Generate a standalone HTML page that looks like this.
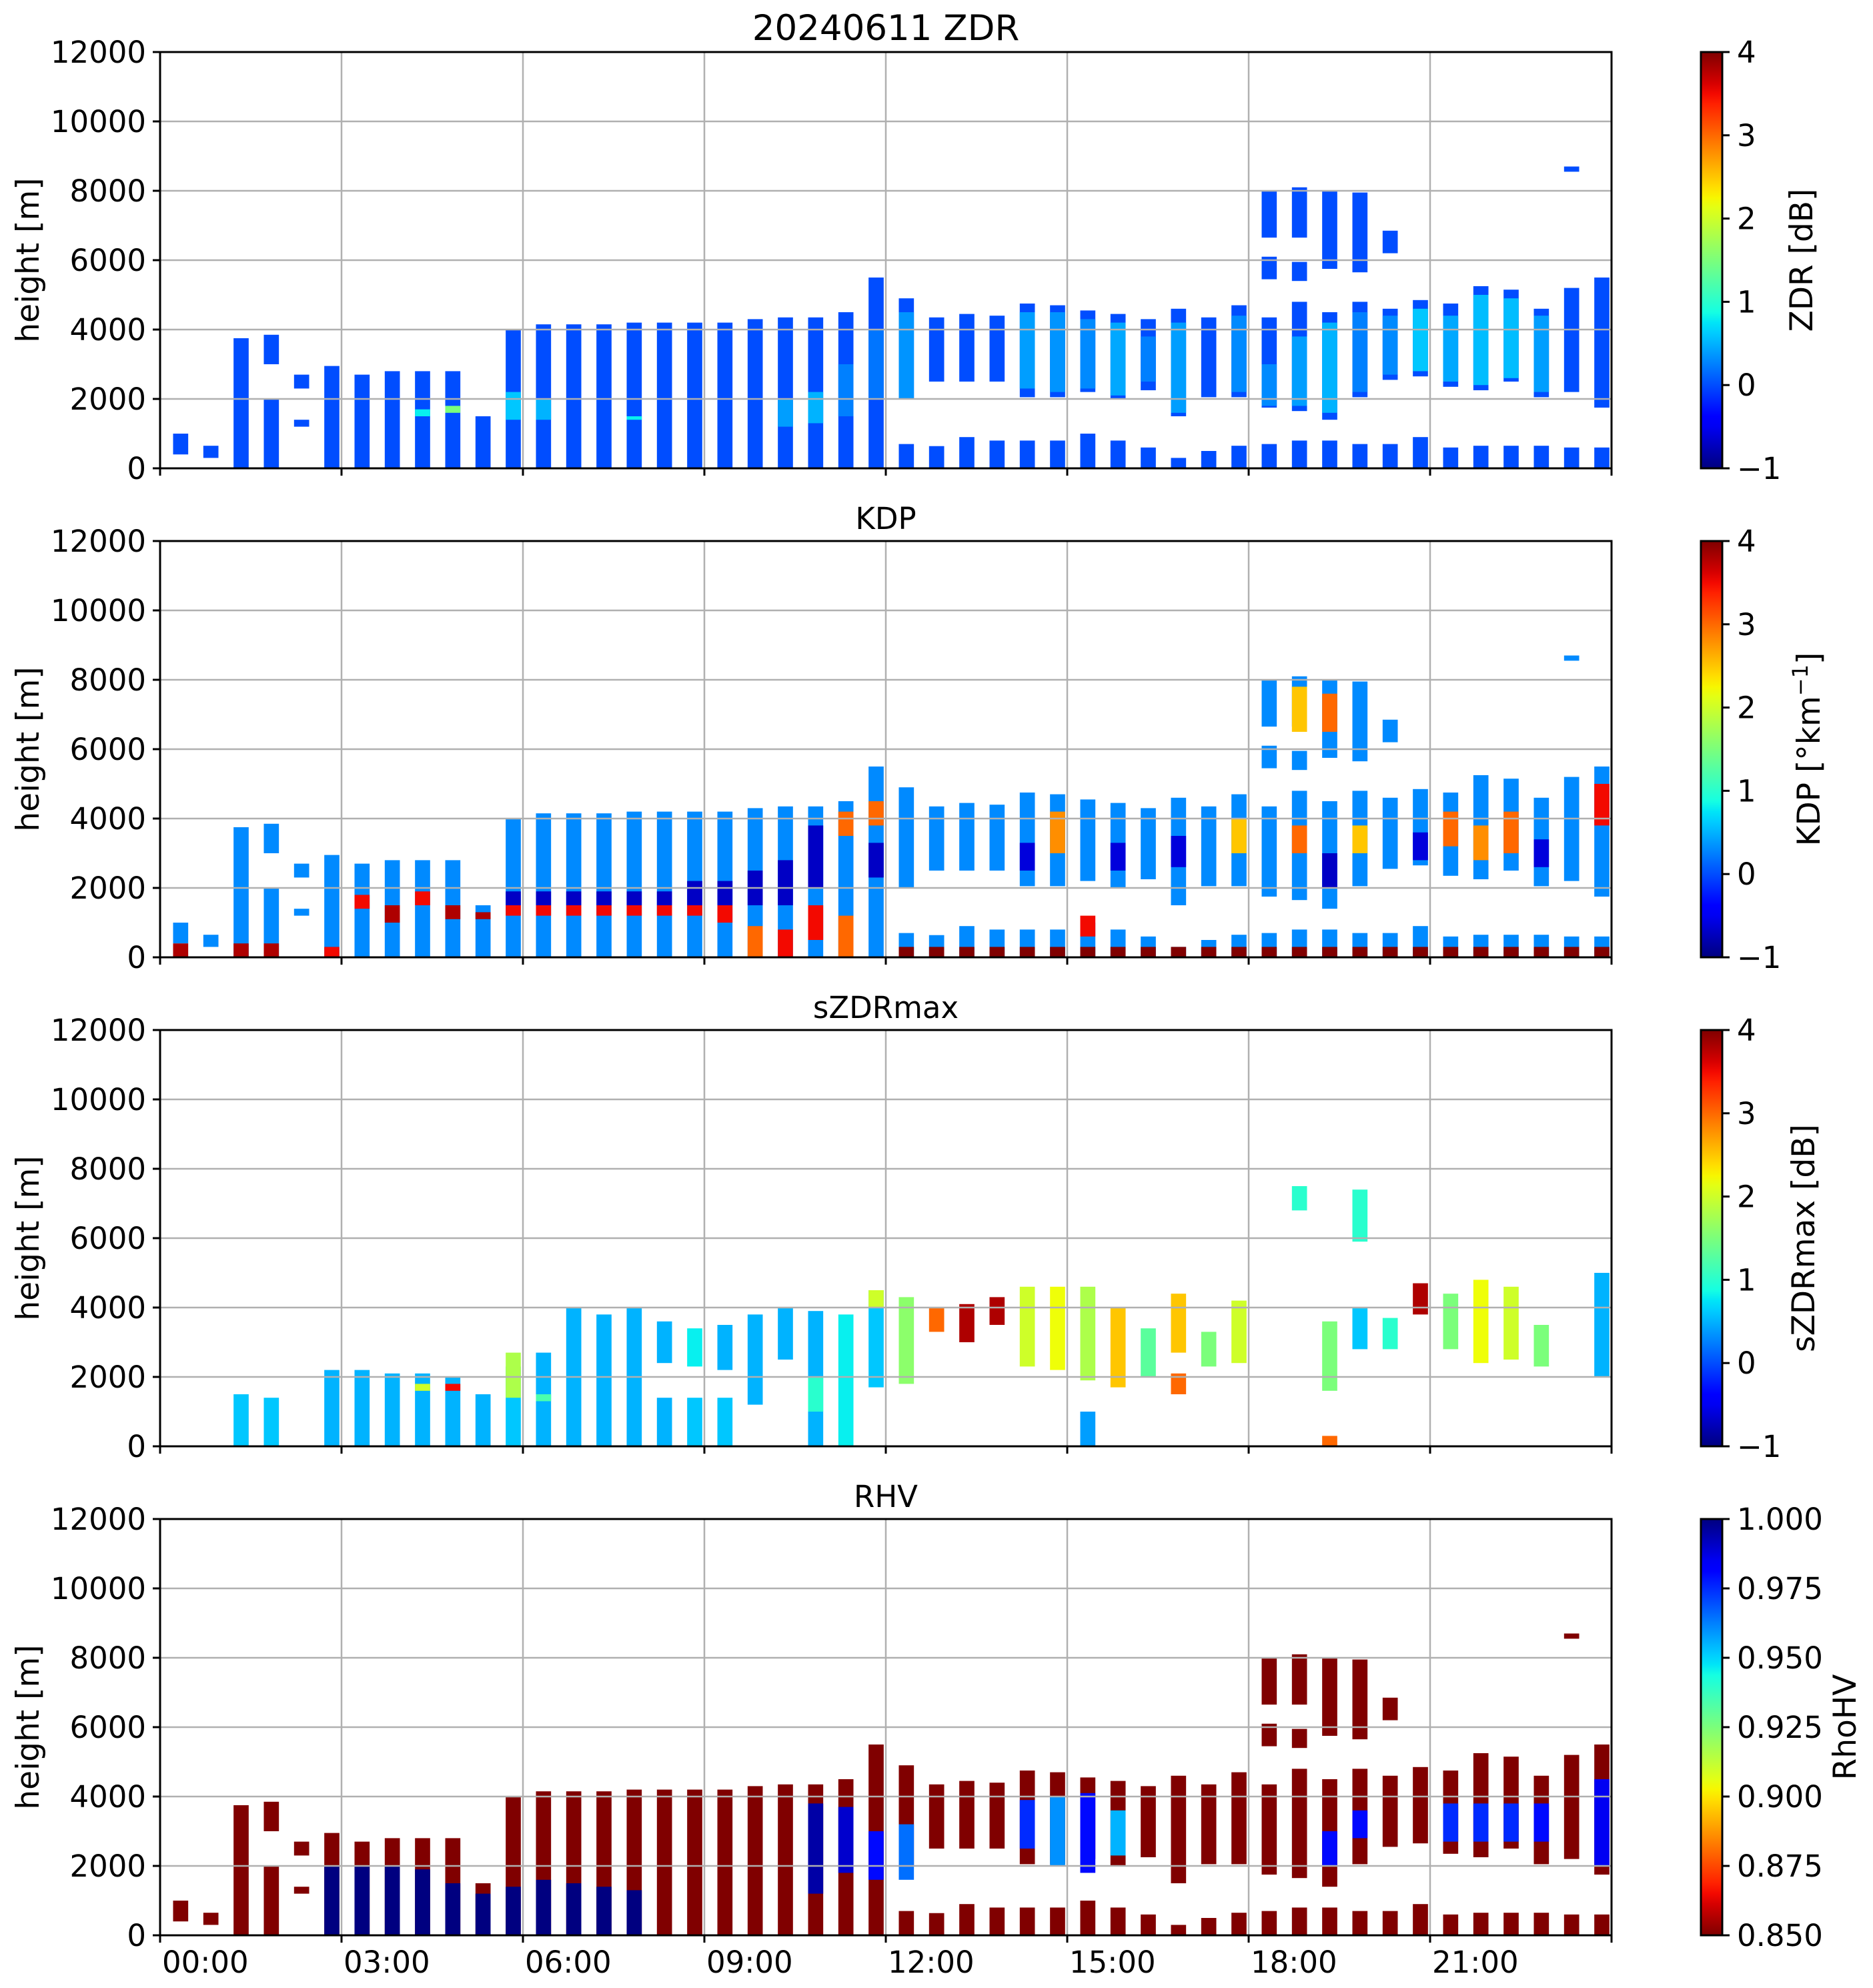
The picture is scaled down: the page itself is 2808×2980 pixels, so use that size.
<!DOCTYPE html>
<html><head><meta charset="utf-8"><title>20240611 ZDR</title>
<style>
html,body{margin:0;padding:0;background:#fff;}
svg{display:block;font-family:"DejaVu Sans","Liberation Sans",sans-serif;}
</style></head>
<body>
<svg id="fig" xmlns="http://www.w3.org/2000/svg" width="2808" height="2980" viewBox="0 0 2808 2980"></svg>
<script>
// ---- data ----
const barTimes = [0.34,0.84,1.34,1.84,2.34,2.84,3.34,3.84,4.34,4.84,5.34,5.84,6.34,6.84,7.34,7.84,8.34,8.84,9.34,9.84,10.34,10.84,11.34,11.84,12.34,12.84,13.34,13.84,14.34,14.84,15.34,15.84,16.34,16.84,17.34,17.84,18.34,18.84,19.34,19.84,20.34,20.84,21.34,21.84,22.34,22.84,23.34,23.84];
const scanBar    = [0,1,2,3,3,4,4,5,6,7,8,9,10,11,12,13,14,15,16,17,18,19,20,21,22,23,24,24,25,25,26,26,27,27,28,28,29,29,30,30,31,31,32,32,33,33,34,34,35,35,36,36,36,36,37,37,37,37,38,38,38,39,39,39,40,40,40,41,41,42,42,43,43,44,44,45,45,46,46,46,47,47];
const scanBottom = [400,300,0,0,3000,1200,2300,0,0,0,0,0,0,0,0,0,0,0,0,0,0,0,0,0,0,0,0,2000,0,2500,0,2500,0,2500,0,2050,0,2050,0,2200,0,2000,0,2250,0,1500,0,2050,0,2050,0,1750,5450,6650,0,1650,5400,6650,0,1400,5750,0,2050,5650,0,2550,6200,0,2650,0,2350,0,2250,0,2500,0,2050,0,2200,8550,0,1750];
const scanTop    = [1000,650,3750,2000,3850,1400,2700,2950,2700,2800,2800,2800,1500,4000,4150,4150,4150,4200,4200,4200,4200,4300,4350,4350,4500,5500,700,4900,640,4350,900,4450,800,4400,800,4750,800,4700,1000,4550,800,4450,600,4300,300,4600,500,4350,650,4700,700,4350,6100,8000,800,4800,5950,8100,800,4500,8000,700,4800,7950,700,4600,6850,900,4850,600,4750,650,5250,650,5150,650,4600,600,5200,8700,600,5500];
const zdrBaseValue = 0.0;
const kdpBaseValue = 0.3;
const rhvBaseValue = 0.85;
const zdrOverlay = [[8,1500,1700,0.8],[9,1600,1800,1.5],[11,1400,2200,0.6],[12,1400,2000,0.5],[15,1400,1500,0.8],[20,1200,2000,0.4],[21,1300,2200,0.5],[22,1500,3000,0.25],[23,2000,4000,0.2],[24,2000,4500,0.35],[28,2300,4500,0.4],[29,2200,4500,0.35],[30,2300,4300,0.3],[31,2100,4200,0.45],[32,2500,3800,0.25],[33,1600,4200,0.4],[35,2200,4400,0.3],[36,1800,3000,0.3],[37,1800,3800,0.4],[38,1600,4200,0.5],[39,2200,4500,0.25],[40,2700,4400,0.3],[41,2800,4600,0.6],[42,2500,4400,0.45],[43,2400,5000,0.55],[44,2600,4900,0.55],[45,2200,4400,0.4]];
const kdpOverlay = [[0,0,400,3.8],[2,0,400,3.8],[3,0,400,3.8],[5,0,300,3.5],[6,1400,1800,3.5],[7,1000,1500,3.8],[8,1500,1900,3.5],[9,1100,1500,3.8],[10,1100,1300,3.8],[11,1200,1500,3.5],[11,1500,1900,-0.7],[12,1200,1500,3.5],[12,1500,1900,-0.7],[13,1200,1500,3.5],[13,1500,1900,-0.7],[14,1200,1500,3.5],[14,1500,1900,-0.7],[15,1200,1500,3.5],[15,1500,1900,-0.7],[16,1200,1500,3.5],[16,1500,1900,-0.7],[17,1200,1500,3.5],[17,1500,2200,-0.7],[18,1000,1500,3.5],[18,1500,2200,-0.7],[19,0,900,3.0],[19,1500,2500,-0.7],[20,0,800,3.5],[20,1500,2800,-0.7],[21,500,1500,3.5],[21,2000,3800,-0.7],[22,0,1200,3.0],[22,3500,4200,3.0],[23,2300,3300,-0.7],[23,3800,4500,3.0],[24,0,300,4],[25,0,300,4],[26,0,300,4],[27,0,300,4],[28,0,300,4],[28,2500,3300,-0.6],[29,0,300,4],[29,3000,4200,2.8],[30,0,300,4],[30,600,1200,3.5],[31,0,300,4],[31,2500,3300,-0.6],[32,0,300,4],[33,0,300,4],[33,2600,3500,-0.6],[34,0,300,4],[35,0,300,4],[35,3000,4000,2.5],[36,0,300,4],[37,0,300,4],[37,3000,3800,3.0],[37,6500,7800,2.5],[38,0,300,4],[38,2000,3000,-0.7],[38,6500,7600,3.0],[39,0,300,4],[39,3000,3800,2.5],[40,0,300,4],[41,0,300,4],[41,2800,3600,-0.6],[42,0,300,4],[42,3200,4200,3.0],[43,0,300,4],[43,2800,3800,2.8],[44,0,300,4],[44,3000,4200,3.0],[45,0,300,4],[45,2600,3400,-0.6],[46,0,300,4],[47,0,300,4],[47,3800,5000,3.5]];
const rhvOverlay = [[5,0,2000,1],[6,0,2000,1],[7,0,2000,1],[8,0,1900,1],[9,0,1500,1],[10,0,1200,1],[11,0,1400,1],[12,0,1600,1],[13,0,1500,1],[14,0,1400,1],[15,0,1300,1],[21,1200,3800,0.995],[22,1800,3700,0.99],[23,1600,3000,0.98],[24,1600,3200,0.965],[28,2500,3900,0.975],[29,2000,4000,0.96],[30,1800,4100,0.98],[31,2300,3600,0.955],[38,2000,3000,0.98],[39,2800,3600,0.98],[42,2700,3800,0.975],[43,2700,3800,0.975],[44,2700,3800,0.975],[45,2700,3800,0.98],[47,2000,4500,0.985]];
const szdrSegments = [[2,0,1500,0.6],[3,0,1400,0.6],[5,0,2200,0.5],[6,0,2200,0.5],[7,0,2100,0.5],[8,0,2100,0.5],[8,1600,1800,2.0],[9,0,2000,0.5],[9,1600,1800,3.5],[10,0,1500,0.5],[11,0,2300,0.6],[11,1400,2700,1.8],[12,0,2700,0.5],[12,1300,1500,1.2],[13,0,4000,0.5],[14,0,3800,0.5],[15,0,4000,0.5],[16,0,1400,0.5],[16,2400,3600,0.5],[17,0,1400,0.6],[17,2300,3400,0.8],[18,0,1400,0.6],[18,2200,3500,0.5],[19,1200,3800,0.5],[20,2500,4000,0.5],[21,0,3900,0.5],[21,1000,2000,1.0],[22,0,3800,0.8],[23,1700,4500,0.6],[23,4000,4500,2.0],[24,1800,4300,1.6],[25,3300,4000,3.0],[26,3000,4100,3.8],[27,3500,4300,3.8],[28,2300,4600,2.0],[29,2200,4600,2.2],[30,1900,4600,1.8],[30,0,1000,0.4],[31,1700,4000,2.5],[32,2000,3400,1.3],[33,2700,4400,2.5],[33,1500,2100,3.0],[34,2300,3300,1.5],[35,2400,4200,2.0],[37,6800,7500,1.0],[38,1600,3600,1.5],[38,0,300,3.0],[39,2800,4000,0.6],[39,5900,7400,1.0],[40,2800,3700,1.0],[41,3800,4700,3.8],[42,2800,4400,1.5],[43,2400,4800,2.2],[44,2500,4600,2.0],[45,2300,3500,1.5],[47,2000,5000,0.5]];
const heightTicks = [0,2000,4000,6000,8000,10000,12000];
const timeTicks = [0,3,6,9,12,15,18,21,24];
const timeTickLabels = ["00:00","03:00","06:00","09:00","12:00","15:00","18:00","21:00"];
const jetTicks = [-1,0,1,2,3,4];
const jetTickLabels = ["\u22121","0","1","2","3","4"];
const rhvTicks = [0.85,0.875,0.9,0.925,0.95,0.975,1.0];
const rhvTickLabels = ["0.850","0.875","0.900","0.925","0.950","0.975","1.000"];

// ---- layout ----
const NS="http://www.w3.org/2000/svg";
const svg=document.getElementById('fig');
const AX_L=240, AX_R=2416, AX_H=624, PANEL_TOPS=[78,811,1544,2277];
const CB_X=2550, CB_W=32, BAR_HALF=0.125;
function xs(t){return AX_L+(t/24)*(AX_R-AX_L);}
function ys(h,top){return top+AX_H*(1-h/12000);}
function interp(pts,f){for(let i=1;i<pts.length;i++){if(f<=pts[i][0]){const a=pts[i-1],b=pts[i];return a[1]+(b[1]-a[1])*(f-a[0])/(b[0]-a[0]);}}return pts[pts.length-1][1];}
function jet(f){f=Math.max(0,Math.min(1,f));
 const r=interp([[0,0],[0.35,0],[0.66,1],[0.89,1],[1,0.5]],f);
 const g=interp([[0,0],[0.125,0],[0.375,1],[0.64,1],[0.91,0],[1,0]],f);
 const b=interp([[0,0.5],[0.11,1],[0.34,1],[0.65,0],[1,0]],f);
 return 'rgb('+Math.round(r*255)+','+Math.round(g*255)+','+Math.round(b*255)+')';}
function jetVal(v){return jet((v+1)/5);}
function rhvVal(v){return jet(1-(v-0.85)/0.15);}
function el(tag,attrs,parent){const e=document.createElementNS(NS,tag);for(const k in attrs)e.setAttribute(k,attrs[k]);(parent||svg).appendChild(e);return e;}

function drawSeg(g,bar,bot,top,color,ptop){
 const t=barTimes[bar];
 const x0=xs(t-BAR_HALF), x1=xs(t+BAR_HALF);
 const r=el('rect',{x:x0,y:ys(top,ptop),width:x1-x0,height:ys(bot,ptop)-ys(top,ptop),fill:color},g);
 
 
}

function drawPanel(p,name,title,titleSize,cbLabel,cbLabelX,isRhv){
 const top=PANEL_TOPS[p];
 const g=el('g',{});
 
 
 const dg=el('g',{},g);
 
 
 if(name==='zdr'||name==='kdp'||name==='rhv'){
  const base= name==='zdr'?jetVal(zdrBaseValue): name==='kdp'?jetVal(kdpBaseValue):rhvVal(rhvBaseValue);
  for(let k=0;k<scanBar.length;k++) drawSeg(dg,scanBar[k],scanBottom[k],scanTop[k],base,top);
  const ov= name==='zdr'?zdrOverlay: name==='kdp'?kdpOverlay:rhvOverlay;
  for(const s of ov) drawSeg(dg,s[0],s[1],s[2], isRhv?rhvVal(s[3]):jetVal(s[3]), top);
 } else {
  for(const s of szdrSegments) drawSeg(dg,s[0],s[1],s[2],jetVal(s[3]),top);
 }
 const gg=el('g',{stroke:'#b0b0b0','stroke-width':2.5},g);
 
 
 for(const t of timeTicks){if(t>0&&t<24)el('line',{x1:xs(t),x2:xs(t),y1:top,y2:top+AX_H},gg);}
 for(const h of heightTicks){if(h>0&&h<12000)el('line',{x1:AX_L,x2:AX_R,y1:ys(h,top),y2:ys(h,top)},gg);}
 const fr=el('rect',{x:AX_L,y:top,width:AX_R-AX_L,height:AX_H,fill:'none',stroke:'#000','stroke-width':3},g);
 
 
 for(let i=0;i<heightTicks.length;i++){
  const y=ys(heightTicks[i],top);
  el('line',{x1:AX_L-11,x2:AX_L,y1:y,y2:y,stroke:'#000','stroke-width':3},g);
  const tx=el('text',{x:219,y:y+16,'font-size':45,'text-anchor':'end',fill:'#000'},g);
  tx.textContent=String(heightTicks[i]);
  
  
 }
 for(const t of timeTicks){el('line',{x1:xs(t),x2:xs(t),y1:top+AX_H,y2:top+AX_H+11,stroke:'#000','stroke-width':3},g);}
 const yl=el('text',{x:0,y:0,'font-size':47,'text-anchor':'middle',transform:'translate(58,'+(top+AX_H/2)+') rotate(-90)'},g);
 yl.textContent='height [m]';
 
 
 const tt=el('text',{x:(AX_L+AX_R)/2,y:top-18,'font-size':titleSize,'text-anchor':'middle'},g);
 tt.textContent=title;
 
 
 const cg=el('g',{},g);
 
 
 const gid='grad'+p;
 const grad=el('linearGradient',{id:gid,x1:0,y1:1,x2:0,y2:0},el('defs',{},cg));
 for(let i=0;i<=40;i++){const f=i/40;el('stop',{offset:f,'stop-color':isRhv?jet(1-f):jet(f)},grad);}
 el('rect',{x:CB_X,y:top,width:CB_W,height:AX_H,fill:'url(#'+gid+')',stroke:'#000','stroke-width':3},cg);
 const ticks=isRhv?rhvTicks:jetTicks, labs=isRhv?rhvTickLabels:jetTickLabels;
 for(let i=0;i<ticks.length;i++){
  const f=isRhv?(ticks[i]-0.85)/0.15:(ticks[i]+1)/5;
  const y=top+AX_H*(1-f);
  el('line',{x1:CB_X+CB_W,x2:CB_X+CB_W+11,y1:y,y2:y,stroke:'#000','stroke-width':3},cg);
  const tx=el('text',{x:CB_X+CB_W+22,y:y+16,'font-size':45},cg);
  tx.textContent=labs[i];
  
  
 }
 const cl=el('text',{x:0,y:0,'font-size':47,'text-anchor':'middle',transform:'translate('+cbLabelX+','+(top+AX_H/2)+') rotate(-90)'},cg);
 if(name==='kdp'){
  cl.appendChild(document.createTextNode('KDP [°km'));
  const sup=el('tspan',{'font-size':32,dy:-18},cl); sup.textContent='\u22121';
  const rest=el('tspan',{dy:18},cl); rest.textContent=']';
 } else cl.textContent=cbLabel;
 
 
}

drawPanel(0,'zdr','20240611 ZDR',53,'ZDR [dB]',2717,false);
drawPanel(1,'kdp','KDP',45,'',2728,false);
drawPanel(2,'szdrmax','sZDRmax',45,'sZDRmax [dB]',2720,false);
drawPanel(3,'rhv','RHV',45,'RhoHV',2782,true);

for(let i=0;i<timeTickLabels.length;i++){
 const tx=el('text',{x:xs(timeTicks[i])+3,y:2957,'font-size':45});
 tx.textContent=timeTickLabels[i];
 
 
}
</script>
</body></html>
